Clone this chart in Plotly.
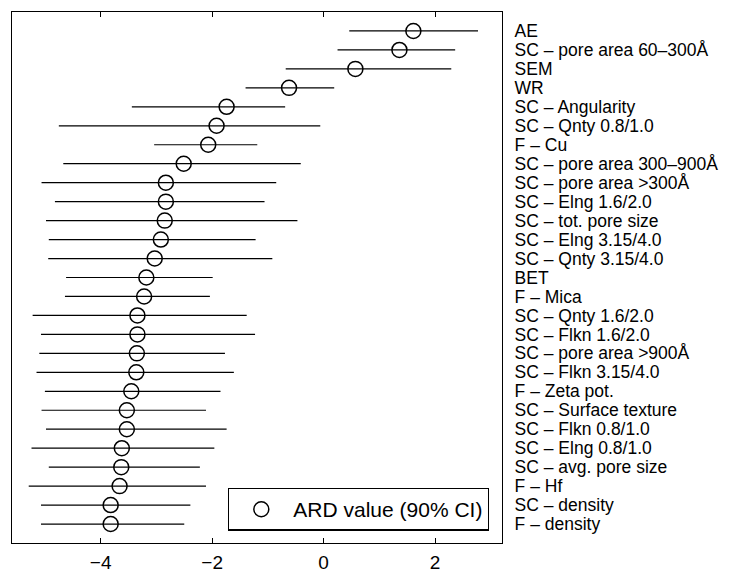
import plotly.graph_objects as go

labels = ["AE", "SC – pore area 60–300Å", "SEM", "WR", "SC – Angularity",
          "SC – Qnty 0.8/1.0", "F – Cu", "SC – pore area 300–900Å",
          "SC – pore area >300Å", "SC – Elng 1.6/2.0", "SC – tot. pore size",
          "SC – Elng 3.15/4.0", "SC – Qnty 3.15/4.0", "BET", "F – Mica",
          "SC – Qnty 1.6/2.0", "SC – Flkn 1.6/2.0", "SC – pore area >900Å",
          "SC – Flkn 3.15/4.0", "F – Zeta pot.", "SC – Surface texture",
          "SC – Flkn 0.8/1.0", "SC – Elng 0.8/1.0", "SC – avg. pore size",
          "F – Hf", "SC – density", "F – density"]

ard = [1.61, 1.36, 0.57, -0.62, -1.74, -1.92, -2.07, -2.51, -2.83, -2.83,
       -2.85, -2.92, -3.03, -3.18, -3.22, -3.34, -3.34, -3.35, -3.36, -3.45,
       -3.53, -3.53, -3.62, -3.63, -3.66, -3.82, -3.82]
ci_low = [0.46, 0.25, -0.68, -1.40, -3.44, -4.75, -3.04, -4.67, -5.06, -4.82,
          -4.98, -4.93, -4.94, -4.62, -4.64, -5.22, -5.07, -5.10, -5.15, -5.00,
          -5.06, -4.98, -5.24, -4.93, -5.29, -5.07, -5.07]
ci_high = [2.77, 2.36, 2.29, 0.19, -0.69, -0.06, -1.19, -0.41, -0.85, -1.06,
           -0.47, -1.22, -0.92, -1.99, -2.04, -1.38, -1.23, -1.77, -1.61, -1.85,
           -2.11, -1.74, -1.96, -2.22, -2.11, -2.39, -2.50]

x_ticks = [-4, -2, 0, 2]

rows = list(range(1, len(labels) + 1))

FONT = "Liberation Sans, Arial, Helvetica, sans-serif"

lx, ly = [], []
for r, lo, hi in zip(rows, ci_low, ci_high):
    lx += [lo, hi, None]
    ly += [r, r, None]

fig = go.Figure()
fig.add_trace(go.Scatter(x=lx, y=ly, mode="lines",
                         line=dict(color="black", width=1.2),
                         showlegend=False, hoverinfo="skip"))
fig.add_trace(go.Scatter(x=ard, y=rows, mode="markers",
                         name="ARD value (90% CI)",
                         marker=dict(symbol="circle-open", size=15,
                                     color="black", line=dict(width=1.5))))

fig.update_layout(
    width=733, height=574,
    margin=dict(l=11.5, r=231.3, t=11.7, b=31.3, autoexpand=False),
    paper_bgcolor="white", plot_bgcolor="white",
    font=dict(family=FONT, size=18, color="black"),
    showlegend=True,
    legend=dict(x=0.9735, y=0.023, xanchor="right", yanchor="bottom",
                bordercolor="black", borderwidth=1.3, bgcolor="white",
                font=dict(family=FONT, size=21, color="black"),
                itemsizing="trace", itemwidth=54,
                tracegroupgap=0),
)
fig.update_xaxes(range=[-5.59, 3.2], tickvals=x_ticks,
                 ticks="inside", ticklen=5, tickcolor="black",
                 showline=True, linecolor="black", linewidth=1.2,
                 mirror="ticks", showgrid=False, zeroline=False,
                 tickfont=dict(size=19), ticklabelstandoff=2,
                 automargin=False)
fig.update_yaxes(range=[28, 0], tickvals=rows, ticktext=labels,
                 side="right", ticks="", showline=True, linecolor="black",
                 linewidth=1.2, mirror=True, showgrid=False, zeroline=False,
                 tickfont=dict(size=17.5), ticklabelstandoff=8,
                 automargin=False)

fig.write_html("out.html")
